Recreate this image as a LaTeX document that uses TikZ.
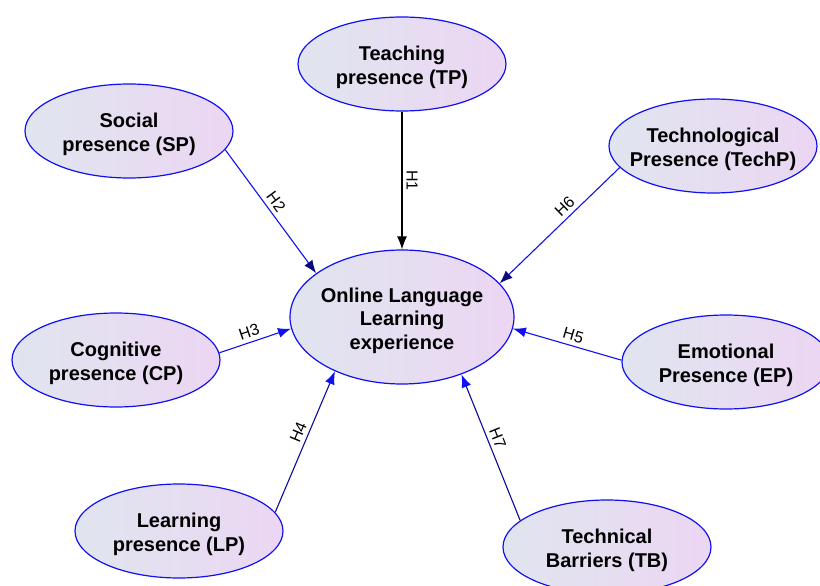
\documentclass[tikz,border=0pt]{standalone}
\usepackage{fontspec}
\setmainfont{Liberation Sans}
\usetikzlibrary{shapes.geometric,arrows.meta}

\definecolor{bubleft}{HTML}{E0E5EF}
\definecolor{bubright}{HTML}{ECD6F3}
\definecolor{bubline}{HTML}{1010F0}
\definecolor{tipnavy}{HTML}{0A0A7A}

\newcommand{\bubtext}[1]{\raisebox{-9pt}[0pt][0pt]{\makebox[0pt]{\begin{tabular}{@{}c@{}}#1\end{tabular}}}}

\tikzset{
  bub/.style={ellipse, draw=bubline, line width=1.2pt, left color=bubleft, right color=bubright,
    minimum width=208pt, minimum height=94pt, inner sep=0pt,
    font=\fontsize{20}{23.5}\selectfont\bfseries},
  hyp/.style={line width=1.1pt, -{Latex[length=13pt,width=10pt]}},
  hlab/.style={sloped, above, font=\fontsize{16}{18}\selectfont, text=black, inner sep=4pt}
}

\begin{document}
\begin{tikzpicture}[x=1pt, y=-1pt]
                \useasboundingbox (0,0) rectangle (820,586);

                % Nodes
                \node[bub] (tp) at (402, 64) {\bubtext{Teaching\\presence (TP)}};
                \node[bub] (sp) at (129, 131) {\bubtext{Social\\presence (SP)}};
                \node[bub] (techp) at (713, 146) {\bubtext{Technological\\Presence (TechP)}};
                \node[bub, minimum width=224pt, minimum height=134pt] (oll) at (402, 317) {\bubtext{Online Language\\Learning\\experience}};
                \node[bub] (cp) at (116, 360) {\bubtext{Cognitive\\presence (CP)}};
                \node[bub] (ep) at (726, 362) {\bubtext{Emotional\\Presence (EP)}};
                \node[bub] (lp) at (179, 531) {\bubtext{Learning\\presence (LP)}};
                \node[bub] (tb) at (607, 547) {\bubtext{Technical\\Barriers (TB)}};

                % Edges
                \draw[hyp, black] (tp) -- node[hlab] {H1} (oll);
                \draw[hyp, bubline, -{Latex[length=13pt,width=10pt,fill=tipnavy,color=tipnavy]}] (sp.-11) -- node[hlab, pos=0.47] {H2} (oll.153);
                \draw[hyp, bubline] (cp.4.5) -- node[hlab, pos=0.46] {H3} (oll.186.7);
                \draw[hyp, bubline!65!black, -{Latex[length=13pt,width=10pt,color=bubline]}] (lp.11) -- node[hlab, pos=0.54] {H4} (oll.219.8);
                \draw[hyp, bubline] (ep.179.5) -- node[hlab, pos=0.47] {H5} (oll.-6.7);
                \draw[hyp, bubline, -{Latex[length=13pt,width=10pt,color=tipnavy]}] (techp.-167) -- node[hlab, pos=0.4] {H6} (oll.19);
                \draw[hyp, bubline!65!black, -{Latex[length=13pt,width=10pt,color=bubline]}] (tb.163) -- node[hlab, pos=0.54] {H7} (oll.-44.5);
            \end{tikzpicture}
\end{document}
